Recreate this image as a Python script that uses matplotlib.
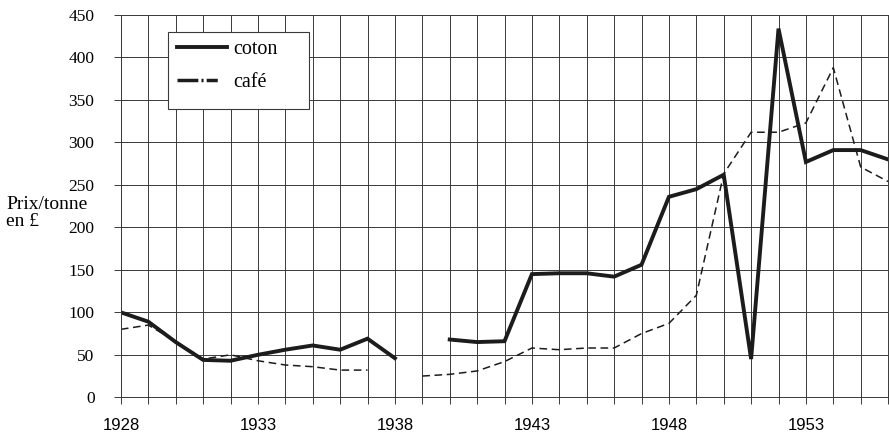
import numpy as np
import matplotlib
matplotlib.use("Agg")
import matplotlib.pyplot as plt
from matplotlib.lines import Line2D
from matplotlib.patches import Rectangle
from matplotlib.ticker import FixedLocator, MultipleLocator

years = list(range(1928, 1957))
year_labels = [1928, 1933, 1938, 1943, 1948, 1953]

# prix par tonne en livres, NaN = pas de donnée
coton = [100, 89, 65, 44, 43, 50, 56, 61, 56, 69, 46, np.nan,
         68, 65, 66, 145, 146, 146, 142, 156, 236, 245, 262,
         45, 434, 277, 291, 291, 280]
cafe = [80, 85, 66, 45, 50, 43, 38, 36, 32, 32, np.nan, 25,
        27, 31, 42, 58, 56, 58, 58, 75, 87, 120, 263,
        312, 312, 323, 388, 271, 254]

serif = "Liberation Serif"
sans = "Liberation Sans"
ink = "#1c1c1c"
grid_c = "#3a3a3a"

fig = plt.figure(figsize=(8.89, 4.34), dpi=100)
ax = fig.add_axes([0.136, 0.0846, 0.863, 0.8808])

ax.plot(years, coton, color=ink, lw=2.8, solid_joinstyle="miter")
ax.plot(years, cafe, color=ink, lw=1.1, dashes=(5, 3))

ax.set_xlim(1928, 1956)
ax.set_ylim(0, 450)
ax.xaxis.set_major_locator(FixedLocator(year_labels))
ax.xaxis.set_minor_locator(MultipleLocator(1))
ax.yaxis.set_major_locator(MultipleLocator(50))

ax.grid(which="both", color=grid_c, lw=0.7)
ax.tick_params(which="both", direction="inout", length=10, width=0.7, color=grid_c)
ax.tick_params(axis="x", pad=10)
ax.tick_params(axis="y", pad=14)
for s in ax.spines.values():
    s.set_color(grid_c)
    s.set_linewidth(0.7)

for lab in ax.get_xticklabels():
    lab.set_fontfamily(sans)
    lab.set_fontsize(12)
for lab in ax.get_yticklabels():
    lab.set_fontfamily(serif)
    lab.set_fontsize(12.5)

# titre de l'axe y, sur deux lignes posées à gauche des graduations
fig.text(0.007, 0.529, "Prix/tonne", fontfamily=serif, fontsize=14,
         ha="left", va="center")
fig.text(0.007, 0.489, "en \u00a3", fontfamily=serif, fontsize=14,
         ha="left", va="center")

# cadre de la légende, plus large que son contenu
ax.add_patch(Rectangle((0.0613, 0.7541), 0.1838, 0.2014, transform=ax.transAxes,
                       facecolor="white", edgecolor=grid_c, lw=0.8, zorder=4))

handles = [
    Line2D([], [], color=ink, lw=2.8),
    Line2D([], [], color=ink, lw=2.5, dashes=(6, 0.9, 0.6, 0.9, 3.2, 10)),
]
leg = ax.legend(handles, ["coton", "caf\u00e9"], loc="upper left",
                bbox_to_anchor=(0.073, 0.935), prop={"family": serif, "size": 14.5},
                frameon=False, handlelength=2.5, handletextpad=0.3,
                labelspacing=0.7, borderpad=0, borderaxespad=0)
leg.set_zorder(5)

fig.savefig("out.png", dpi=100, facecolor="white")
